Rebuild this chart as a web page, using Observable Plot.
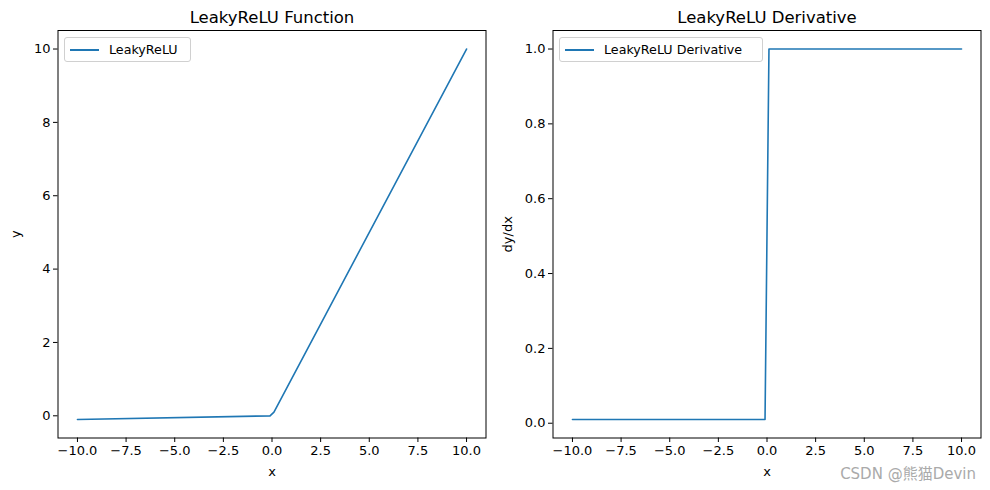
<!DOCTYPE html>
<html>
<head>
<meta charset="utf-8">
<script src="https://cdn.jsdelivr.net/npm/d3@7"></script>
<script src="https://cdn.jsdelivr.net/npm/@observablehq/plot@0.6"></script>
<style>
  html, body { margin: 0; padding: 0; background: #fff; }
  #wrap { position: relative; width: 990px; height: 490px; font-family: "DejaVu Sans", sans-serif; }
  .panel { position: absolute; top: 0; }
  .legend { position: absolute; box-sizing: border-box; border: 1px solid #d0d0d0; border-radius: 3px; background: rgba(255,255,255,0.8); font-size: 12.7px; color: #000; font-family: "DejaVu Sans", sans-serif; }
  .legend .sw { position: absolute; left: 5px; top: 11px; width: 29px; height: 0; border-top: 2px solid #1f77b4; }
  .legend .lb { position: absolute; left: 44px; top: 4px; white-space: nowrap; }
  .wm { position: absolute; right: 14px; top: 462px; font-size: 15px; color: #aaaaaa; font-family: "DejaVu Sans", "Noto Sans CJK SC", sans-serif; }
</style>
</head>
<body>
<div id="wrap"></div>
<script>
// LeakyReLU function (left panel)
const fnX = [-10, -0.101, 0.101, 10];
const fnY = [-0.1, -0.00101, 0.101, 10];
const fnTicksX = [-10, -7.5, -5, -2.5, 0, 2.5, 5, 7.5, 10];
const fnTicksY = [0, 2, 4, 6, 8, 10];
// LeakyReLU derivative (right panel)
const dX = [-10, -0.101, 0.101, 10];
const dY = [0.01, 0.01, 1, 1];
const dTicksY = [0, 0.2, 0.4, 0.6, 0.8, 1.0];

const titles = ["LeakyReLU Function", "LeakyReLU Derivative"];
const yLabels = ["y", "dy/dx"];
const legendLabels = ["LeakyReLU", "LeakyReLU Derivative"];
const watermark = "CSDN @熊猫Devin";

const C = "#1f77b4";
const FONT = "'DejaVu Sans', sans-serif";
const fmt1 = d => (d < 0 ? "\u2212" : "") + Math.abs(d).toFixed(1);
const fmt0 = d => (d < 0 ? "\u2212" : "") + Math.abs(d).toFixed(0);

function panel({xs, ys, yDomain, yTicks, yFmt, title, yLabel, yLabelDx}) {
  const data = xs.map((x, i) => ({x, y: ys[i]}));
  return Plot.plot({
    width: 495, height: 490,
    marginLeft: 57.5, marginRight: 9.5, marginTop: 30, marginBottom: 52.5,
    style: {fontFamily: FONT, fontSize: "13px", color: "#000", background: "transparent"},
    x: {domain: [-11, 11]},
    y: {domain: yDomain},
    marks: [
      Plot.line(data, {x: "x", y: "y", stroke: C, strokeWidth: 1.6}),
      Plot.frame({stroke: "#000", strokeWidth: 1}),
      Plot.axisX({ticks: fnTicksX, tickFormat: fmt1, tickSize: 4.5, tickPadding: 3, label: null, fontSize: 13, fontFamily: FONT}),
      Plot.axisY({ticks: yTicks, tickFormat: yFmt, tickSize: 4.5, tickPadding: 3, label: null, fontSize: 13, fontFamily: FONT}),
      Plot.text([title], {frameAnchor: "top", lineAnchor: "middle", dy: -13, text: d => d, fontSize: 16.5, fontFamily: FONT, fill: "#000"}),
      Plot.text(["x"], {frameAnchor: "bottom", lineAnchor: "middle", dy: 34, text: d => d, fontSize: 13, fontFamily: FONT, fill: "#000"}),
      Plot.text([yLabel], {frameAnchor: "left", textAnchor: "middle", lineAnchor: "middle", dx: yLabelDx, rotate: -90, text: d => d, fontSize: 13, fontFamily: FONT, fill: "#000"})
    ]
  });
}

const wrap = document.getElementById("wrap");
const p1 = panel({xs: fnX, ys: fnY, yDomain: [-0.605, 10.505], yTicks: fnTicksY, yFmt: fmt0, title: titles[0], yLabel: yLabels[0], yLabelDx: -42});
p1.classList.add("panel"); p1.style.left = "0px";
const p2 = panel({xs: dX, ys: dY, yDomain: [-0.0395, 1.0495], yTicks: dTicksY, yFmt: fmt1, title: titles[1], yLabel: yLabels[1], yLabelDx: -45});
p2.classList.add("panel"); p2.style.left = "495px";
wrap.appendChild(p1);
wrap.appendChild(p2);

function legend(left, top, w, label) {
  const el = document.createElement("div");
  el.className = "legend";
  el.style.left = left + "px"; el.style.top = top + "px";
  el.style.width = w + "px"; el.style.height = "25px";
  el.innerHTML = '<div class="sw"></div><div class="lb"></div>';
  el.querySelector(".lb").textContent = label;
  wrap.appendChild(el);
}
legend(64, 37, 127, legendLabels[0]);
legend(559, 37, 204, legendLabels[1]);

const wm = document.createElement("div");
wm.className = "wm";
wm.textContent = watermark;
wrap.appendChild(wm);
</script>
</body>
</html>
